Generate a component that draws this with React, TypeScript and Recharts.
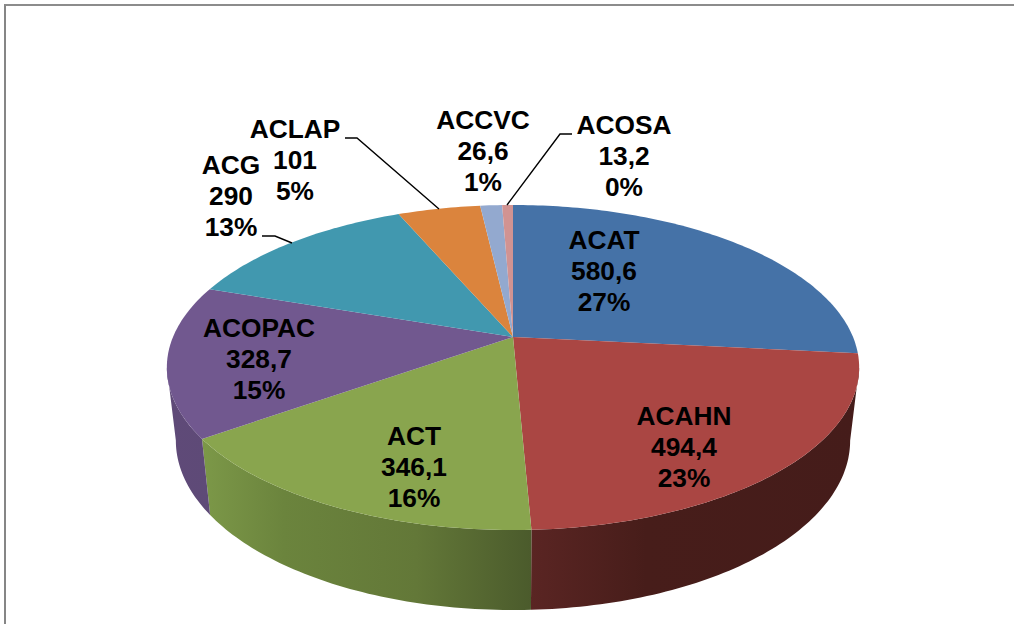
import React from "react";
import { PieChart, Pie, Cell } from "recharts";

const categories = ["ACAT", "ACAHN", "ACT", "ACOPAC", "ACG", "ACLAP", "ACCVC", "ACOSA"];
const values = [580.6, 494.4, 346.1, 328.7, 290, 101, 26.6, 13.2];
const percentLabels = ["27%", "23%", "16%", "15%", "13%", "5%", "1%", "0%"];
const colors = ["#4572A7", "#AA4643", "#89A54E", "#71588F", "#4198AF", "#DB843D", "#93A9CF", "#D19392"];

const data = categories.map((name, i) => ({ name, value: values[i], pct: percentLabels[i] }));

// layout: where each label sits (centre x, first baseline) and its leader polyline
const labelPos = [
  { x: 604, y: 249 },
  { x: 684, y: 425 },
  { x: 414, y: 445 },
  { x: 259, y: 337 },
  { x: 231, y: 174 },
  { x: 295, y: 138 },
  { x: 483, y: 129 },
  { x: 624, y: 134 },
];
const leaders: Record<number, string> = {
  4: "262,236 275,236 292,243",
  5: "345,138 357,138 439,209",
  7: "572,134 560,134 507,205",
};
const LINE = 31;

// perspective of the disc
const SQUASH = 156.8 / 340;
const K = 0.1877;
const WIDEST = (Math.asin(K) * 180) / Math.PI;
const project = (cx: number, cy: number, r: number, deg: number) => {
  const t = (deg * Math.PI) / 180;
  const u = Math.cos(t);
  const v = Math.sin(t);
  const w = 1 + K * v;
  return { x: cx + (r * u) / w, y: cy - (r * SQUASH * v) / w };
};
const lower = (p: { x: number; y: number }, cx: number, cy: number) => ({
  x: cx + (p.x - cx) * 0.974,
  y: p.y + 71.7 + 0.043 * (p.y - cy),
});

const arc = (cx: number, cy: number, r: number, a: number, b: number) => {
  const n = Math.max(2, Math.ceil(Math.abs(a - b) / 1));
  const pts = [];
  for (let i = 0; i <= n; i++) pts.push(project(cx, cy, r, a + ((b - a) * i) / n));
  return pts;
};
const toPath = (pts: { x: number; y: number }[]) =>
  pts.map((p, i) => `${i ? "L" : "M"}${p.x.toFixed(2)} ${p.y.toFixed(2)}`).join("") + "Z";

const wallFill = ["none", "url(#wall1)", "url(#wall2)", "url(#wall3)", "none", "none", "none", "none"];

const PerspectiveSlice = (props: any) => {
  const { cx, cy, outerRadius, startAngle, endAngle, fill, index } = props;
  const rim = arc(cx, cy, outerRadius, startAngle, endAngle);
  const wf = wallFill[index] ?? "none";
  // the wall only shows between the two widest points of the rim
  const wallA = Math.min(startAngle, -WIDEST);
  const wallB = Math.max(endAngle, -180 + WIDEST);
  const wallRim = arc(cx, cy, outerRadius, wallA, wallB);
  return (
    <g>
      {wf !== "none" && (
        <path d={toPath([...wallRim, ...wallRim.map((p) => lower(p, cx, cy)).reverse()])} fill={wf} stroke="none" />
      )}
      <path d={toPath([{ x: cx, y: cy }, ...rim])} fill={fill} stroke="none" />
    </g>
  );
};

const renderLabel = (props: any) => {
  const { index, name, value, pct } = props;
  const pos = labelPos[index];
  const lines = [name ?? data[index].name, String(value ?? values[index]).replace(".", ","), pct ?? percentLabels[index]];
  return (
    <g key={index}>
      {leaders[index] && <polyline points={leaders[index]} fill="none" stroke="#000" strokeWidth={1.4} />}
      <text
        textAnchor="middle"
        fontFamily="Liberation Sans"
        fontWeight={700}
        fontSize={26.3}
        fill="#000"
      >
        {lines.map((l, i) => (
          <tspan key={i} x={pos.x} y={pos.y + i * LINE}>
            {l}
          </tspan>
        ))}
      </text>
    </g>
  );
};

export default function App() {
  return (
    <div style={{ position: "absolute", left: 0, top: 0, width: 1014, height: 624, background: "#fff", overflow: "hidden" }}>
      <div style={{ position: "absolute", left: 4, top: 4, width: 1100, height: 700, borderLeft: "2px solid #868686", borderTop: "2px solid #8c8c8c", boxSizing: "border-box" }} />
      <div style={{ position: "absolute", left: 0, top: 0 }}>
        <PieChart width={1014} height={624} margin={{ top: 0, right: 0, bottom: 0, left: 0 }}>
          <defs>
            <linearGradient id="wall1" gradientUnits="userSpaceOnUse" x1={531} x2={860} y1={0} y2={0}>
              <stop offset="0" stopColor="#5A2523" />
              <stop offset="0.35" stopColor="#471D1A" />
              <stop offset="1" stopColor="#451C1A" />
            </linearGradient>
            <linearGradient id="wall2" gradientUnits="userSpaceOnUse" x1={202} x2={531} y1={0} y2={0}>
              <stop offset="0" stopColor="#7C9848" />
              <stop offset="0.25" stopColor="#6B843D" />
              <stop offset="0.65" stopColor="#637838" />
              <stop offset="1" stopColor="#4B5B2C" />
            </linearGradient>
            <linearGradient id="wall3" gradientUnits="userSpaceOnUse" x1={167} x2={210} y1={0} y2={0}>
              <stop offset="0" stopColor="#5F4A78" />
              <stop offset="1" stopColor="#5E4A77" />
            </linearGradient>
          </defs>
          <Pie
            data={data}
            dataKey="value"
            nameKey="name"
            cx={513}
            cy={337}
            outerRadius={340}
            startAngle={90}
            endAngle={-270}
            paddingAngle={0}
            stroke="none"
            isAnimationActive={false}
            shape={PerspectiveSlice}
            label={renderLabel}
            labelLine={false}
          >
            {data.map((d, i) => (
              <Cell key={d.name} fill={colors[i]} />
            ))}
          </Pie>
        </PieChart>
      </div>
    </div>
  );
}
